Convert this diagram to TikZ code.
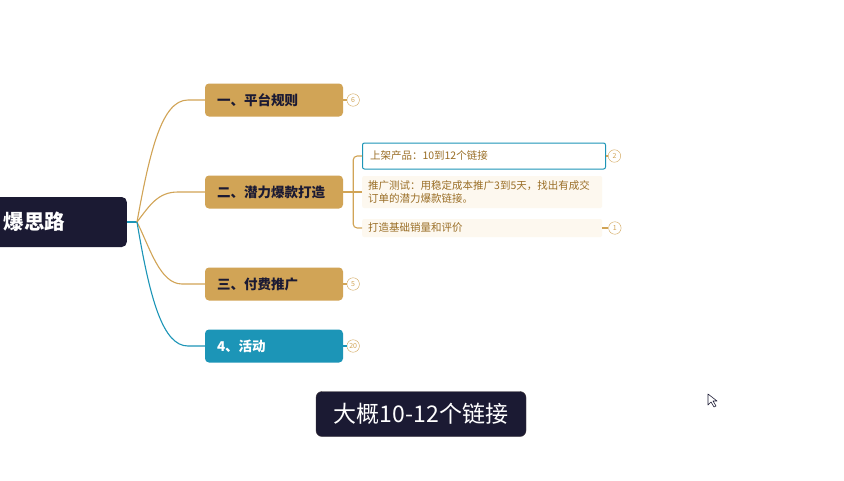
\documentclass[tikz,border=0pt]{standalone}
\usepackage{fontspec}
\setmainfont{Noto Sans CJK SC}
\usepackage{xcolor}
\usetikzlibrary{positioning, calc}

\definecolor{navy}{HTML}{1B1A33}
\definecolor{gold}{HTML}{D1A456}
\definecolor{teal}{HTML}{1C95B7}
\definecolor{brown}{HTML}{9A6E26}
\definecolor{pale}{HTML}{FDF8EF}

\begin{document}
\begin{tikzpicture}[x=1pt, y=-1pt, node distance=4pt]
        \tikzstyle{root} = [rectangle, fill=navy, rounded corners=5pt, minimum height=50pt, text width=150pt, align=left, text=white, font=\fontsize{20.5}{24}\selectfont\bfseries]
        \tikzstyle{branch} = [rectangle, fill=gold, rounded corners=4pt, minimum width=138pt, minimum height=33pt, text width=114pt, align=left, text=navy, font=\fontsize{13.5}{16}\selectfont\bfseries]
        \tikzstyle{item} = [rectangle, fill=pale, rounded corners=2pt, text width=228pt, align=left, text=brown, inner xsep=6pt, font=\fontsize{10.5}{13}\selectfont, anchor=west]
        \tikzstyle{badge} = [circle, draw=gold, fill=white, inner sep=0pt, minimum size=12.5pt, text=gold, font=\fontsize{7}{7}\selectfont]
        \tikzstyle{link} = [gold, line width=1.1pt]
        \tikzstyle{caption} = [rectangle, fill=navy, draw=navy!80!gold, rounded corners=6pt, minimum width=210pt, minimum height=45pt, text=white, font=\fontsize{23}{26}\selectfont]

        \useasboundingbox (0,0) rectangle (844,480);
        \fill[white] (0,0) rectangle (844,480);

        \node [root, anchor=east, minimum width=160pt] (main) at (127,222) {\hspace*{32pt}爆思路};
        \coordinate (hub) at (137,222);

        \node [branch] (b1) at (274,100) {一、平台规则};
        \node [branch] (b2) at (274,192) {二、潜力爆款打造};
        \node [branch] (b3) at (274,284) {三、付费推广};
        \node [branch, fill=teal, text=white] (b4) at (274,346) {4、活动};

        \node [badge, right=3.5pt of b1] (n1) {6};
        \node [badge, right=3.5pt of b3] (n3) {5};
        \node [badge, right=3.5pt of b4] (n4) {20};

        \node [item, fill=white, draw=teal, line width=1pt, minimum width=243pt, minimum height=26pt] (s1) at (362,156) {上架产品：10到12个链接};
        \node [item, minimum width=238pt, minimum height=32pt] (s2) at (362,192) {推广测试：用稳定成本推广3到5天，找出有成交\\订单的潜力爆款链接。};
        \node [item, minimum width=238pt, minimum height=18pt] (s3) at (362,228) {打造基础销量和评价};
        \node [badge, right=2pt of s1] (m1) {2};
        \node [badge, right=6pt of s3] (m3) {1};

        \node [caption] (cap) at (421,414) {大概10-12个链接};

        % root to branches
        \draw [teal, line width=1.1pt] (main.east) -- (hub);
        \draw [link] (hub) .. controls (150,150) and (162,100) .. (188,100) -- (b1.west);
        \draw [link] (hub) .. controls (150,205) and (158,192) .. (178,192) -- (b2.west);
        \draw [link] (hub) .. controls (150,248) and (160,284) .. (182,284) -- (b3.west);
        \draw [teal, line width=1.1pt] (hub) .. controls (150,300) and (163,346) .. (188,346) -- (b4.west);

        % badges
        \draw [link] (b1) -- (n1);
        \draw [link] (b3) -- (n3);
        \draw [teal, line width=1.1pt] (b4) -- (n4);
        \draw [link] (s1) -- (m1);
        \draw [link] (s3) -- (m3);

        % sub items
        \draw [link] (b2.east) -- ++(10,0) coordinate (fork);
        \draw [link, rounded corners=4pt] (fork) |- (s1.west);
        \draw [link] (fork) -- (s2.west);
        \draw [link, rounded corners=4pt] (fork) |- (s3.west);

        % cursor
        \draw [navy, fill=white, line width=0.6pt, line join=round] (708,394) coordinate (tip) -- (708,405) -- (711,402) -- (714,407) -- (716,406) -- (713,401) -- (717,401) -- cycle;
    \end{tikzpicture}
\end{document}
